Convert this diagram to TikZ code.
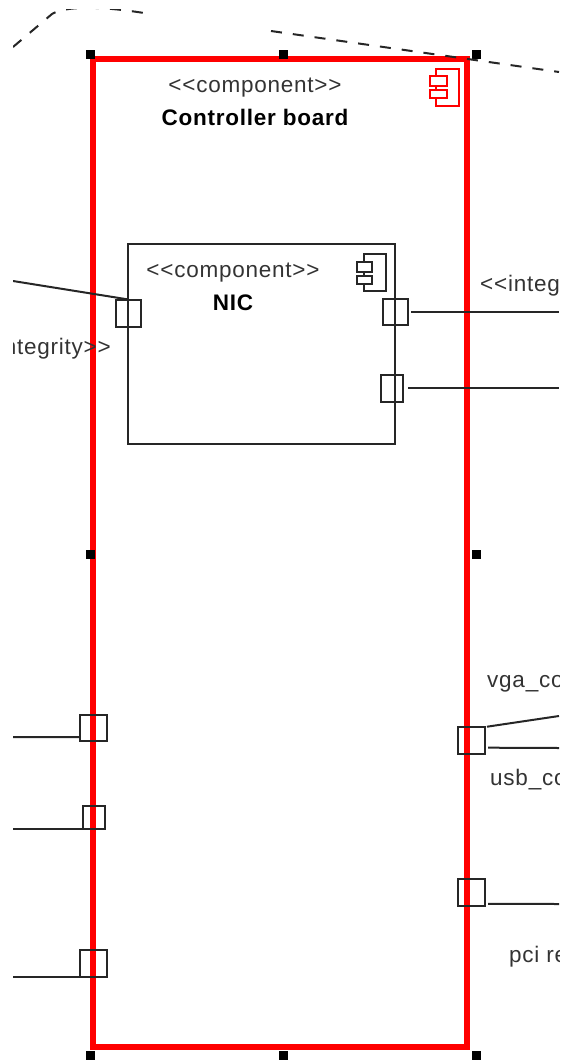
\documentclass[tikz,border=0pt]{standalone}
\usepackage{fontspec}
\setmainfont{Liberation Sans}
\usetikzlibrary{positioning}
\tikzset{
	board/.style={draw=red, line width=5.2pt, rectangle, inner sep=0pt, minimum width=374pt, minimum height=988pt},
	component/.style={draw=black!85, line width=2pt, rectangle, inner sep=0pt, minimum width=267pt, minimum height=200pt},
	portbox/.style={draw=black!85, line width=2pt, rectangle, inner sep=0pt, outer sep=0pt},
	handle/.style={fill=black, rectangle, inner sep=0pt, minimum size=9pt},
	icon/.style={rectangle, inner sep=0pt, outer sep=0pt, line width=1.5pt},
	stereo/.style={inner sep=0pt, text=black!80, font=\fontsize{22.5}{24}\selectfont\addfontfeatures{LetterSpace=3.4}},
	title/.style={inner sep=0pt, text=black, font=\fontsize{22.5}{24}\selectfont\bfseries\addfontfeatures{LetterSpace=3.3}},
	conn/.style={draw=black!85, line width=2pt},
	assoc/.style={draw=black!85, line width=2pt, dash pattern=on 11pt off 11pt},
}

\begin{document}
\begin{tikzpicture}[x=1pt, y=-1pt]
	\useasboundingbox (0,0) rectangle (563,1063);
	\begin{scope}
		\clip (13,9) rectangle (559,1063);
		
		\node (ctrl) [board] at (280,553) {};
		
		\node (ctrlstereo) [stereo] at (255,88) {<{}<component>{}>};
		\node (ctrlname) [title, below of=ctrlstereo, yshift=-1.5pt] {Controller board};
		
		\node (ctrlicon) [icon, draw=red, minimum width=23pt, minimum height=37pt] at (447.5,87.5) {};
		\node (ctrlicona) [icon, draw=red, fill=white, minimum width=17pt, minimum height=10pt] at (438.5,81) {};
		\node (ctrliconb) [icon, draw=red, fill=white, minimum width=17pt, minimum height=8pt] at (438.5,94) {};
		
		\node (nic) [component] at (261.5,343.5) {};
		\node (nicstereo) [stereo] at (233,273) {<{}<component>{}>};
		\node (nicname) [title, below of=nicstereo, yshift=-1.5pt] {NIC};
		
		\node (nicicon) [icon, draw=black!85, minimum width=22pt, minimum height=37pt] at (375,272.5) {};
		\node (nicicona) [icon, draw=black!85, fill=white, minimum width=15pt, minimum height=10pt] at (364.5,267) {};
		\node (niciconb) [icon, draw=black!85, fill=white, minimum width=15pt, minimum height=8pt] at (364.5,280) {};
		
		% ports on the NIC
		\node (nicleft) [portbox, minimum width=25pt, minimum height=27pt] at (128.5,313) {};
		\node (nicright) [portbox, minimum width=25pt, minimum height=26pt] at (395.5,312) {};
		\node (nicspare) [portbox, minimum width=22pt, minimum height=27pt] at (392,388) {};
		
		% ports on the board
		\node (vgaport) [portbox, minimum width=27pt, minimum height=27pt] at (471.5,740.5) {};
		\node (pciport) [portbox, minimum width=27pt, minimum height=27pt] at (471.5,892.5) {};
		\node (lefta) [portbox, minimum width=27pt, minimum height=26pt] at (93,728) {};
		\node (leftb) [portbox, minimum width=22pt, minimum height=23pt] at (94,817) {};
		\node (leftc) [portbox, minimum width=27pt, minimum height=27pt] at (93,963) {};
		
		\node (handlea) [handle] at (90,54) {};
		\node (handleb) [handle] at (283,54) {};
		\node (handlec) [handle] at (476,54) {};
		\node (handled) [handle] at (90,554) {};
		\node (handlee) [handle] at (476,554) {};
		\node (handlef) [handle] at (90,1055) {};
		\node (handleg) [handle] at (283,1055) {};
		\node (handleh) [handle] at (476,1055) {};
		
		\node (integl) [stereo, anchor=east] at (111,349) {ntegrity>{}>};
		\node (integr) [stereo, anchor=west] at (480,286) {<{}<integ};
		\node (vgalabel) [stereo, anchor=west] at (487,684) {vga\_co};
		\node (usblabel) [stereo, anchor=west] at (490,780) {usb\_co};
		\node (pcilabel) [stereo, anchor=west] at (509,957) {pci re};
		
		% free ends, cut off by the view
		\coordinate (nicleftend) at (13,281);
		\coordinate (nicrightend) at (559,312);
		\coordinate (nicspareend) at (559,388);
		\coordinate (vgaend) at (559,716);
		\coordinate (usbend) at (559,748);
		\coordinate (pciend) at (559,904);
		\coordinate (leftaend) at (13,737);
		\coordinate (leftbend) at (13,828.5);
		\coordinate (leftcend) at (13,976.5);
		\coordinate (assocastart) at (13,47);
		\coordinate (assocamid) at (52,14);
		\coordinate (assocaend) at (144,13);
		\coordinate (assocbstart) at (271,31);
		\coordinate (assocbend) at (559,72);
		
		\begin{scope}[conn]
			\draw (nicleftend) -- (nicleft.north);
			\draw [shorten <=3pt] (nicright.east) -- (nicrightend);
			\draw [shorten <=5pt] (nicspare.east) -- (nicspareend);
			\draw [shorten <=2pt] (vgaport.north east) -- (vgaend);
			\draw [shorten <=3pt] (vgaport.-28) -- (usbend);
			\draw [shorten <=3pt] (pciport.-40) -- (pciend);
			\draw (lefta.214) -- (leftaend);
			\draw (leftb.south west) -- (leftbend);
			\draw (leftc.south west) -- (leftcend);
		\end{scope}
		
		\draw [assoc] (assocastart) -- (assocamid) .. controls (65,6) and (100,6) .. (assocaend);
		\draw [assoc] (assocbstart) -- (assocbend);
	\end{scope}
\end{tikzpicture}
\end{document}
